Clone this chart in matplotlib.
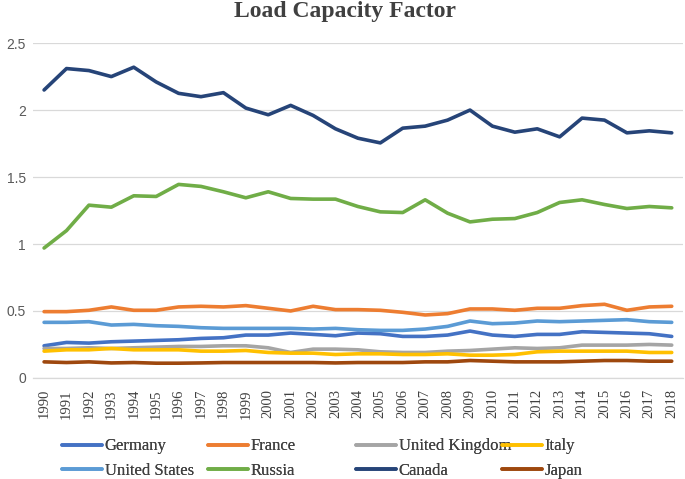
import numpy as np
import matplotlib
matplotlib.use("Agg")
import matplotlib.pyplot as plt

years = list(range(1990, 2019))

germany = [0.24, 0.265, 0.26, 0.27, 0.275, 0.28, 0.285, 0.295, 0.30, 0.32, 0.32, 0.335, 0.325, 0.315, 0.335,
           0.33, 0.31, 0.31, 0.32, 0.35, 0.32, 0.31, 0.325, 0.325, 0.345, 0.34, 0.335, 0.33, 0.31]
france = [0.495, 0.495, 0.505, 0.53, 0.505, 0.505, 0.53, 0.535, 0.53, 0.54, 0.52, 0.50, 0.535, 0.51, 0.51,
          0.505, 0.49, 0.47, 0.48, 0.515, 0.515, 0.505, 0.52, 0.52, 0.54, 0.55, 0.505, 0.53, 0.535]
uk = [0.22, 0.22, 0.225, 0.22, 0.225, 0.23, 0.235, 0.235, 0.24, 0.24, 0.225, 0.19, 0.215, 0.215, 0.21,
      0.195, 0.19, 0.19, 0.20, 0.205, 0.215, 0.225, 0.22, 0.225, 0.245, 0.245, 0.245, 0.25, 0.245]
italy = [0.20, 0.21, 0.21, 0.22, 0.21, 0.21, 0.21, 0.20, 0.20, 0.205, 0.19, 0.185, 0.185, 0.175, 0.18,
         0.18, 0.175, 0.175, 0.18, 0.17, 0.17, 0.175, 0.195, 0.20, 0.20, 0.20, 0.20, 0.19, 0.19]
usa = [0.415, 0.415, 0.42, 0.395, 0.40, 0.39, 0.385, 0.375, 0.37, 0.37, 0.37, 0.37, 0.365, 0.37, 0.36,
       0.355, 0.355, 0.365, 0.385, 0.425, 0.405, 0.41, 0.425, 0.42, 0.425, 0.43, 0.435, 0.42, 0.415]
russia = [0.97, 1.10, 1.29, 1.275, 1.36, 1.355, 1.445, 1.43, 1.39, 1.345, 1.39, 1.34, 1.335, 1.335, 1.28,
          1.24, 1.235, 1.33, 1.23, 1.165, 1.185, 1.19, 1.235, 1.31, 1.33, 1.295, 1.265, 1.28, 1.27]
canada = [2.15, 2.31, 2.295, 2.25, 2.32, 2.21, 2.125, 2.10, 2.13, 2.015, 1.965, 2.035, 1.96, 1.86, 1.79,
          1.755, 1.865, 1.88, 1.925, 2.0, 1.88, 1.835, 1.86, 1.80, 1.94, 1.925, 1.83, 1.845, 1.83]
japan = [0.12, 0.115, 0.12, 0.112, 0.115, 0.11, 0.11, 0.112, 0.115, 0.115, 0.115, 0.115, 0.115, 0.112, 0.115,
         0.115, 0.115, 0.12, 0.12, 0.13, 0.125, 0.12, 0.12, 0.12, 0.125, 0.13, 0.13, 0.125, 0.125]

series = [
    ("Germany", germany, "#4472C4"),
    ("France", france, "#ED7D31"),
    ("United Kingdom", uk, "#A5A5A5"),
    ("Italy", italy, "#FFC000"),
    ("United States", usa, "#5B9BD5"),
    ("Russia", russia, "#70AD47"),
    ("Canada", canada, "#264478"),
    ("Japan", japan, "#9E480E"),
]

serif = ["Liberation Serif", "DejaVu Serif"]

fig = plt.figure(figsize=(6.85, 4.79), dpi=100)
ax = fig.add_axes([0.048, 0.211, 0.949, 0.699])

x = np.arange(len(years))
handles = {}
for name, vals, color in series:
    (ln,) = ax.plot(x, vals, color=color, linewidth=2.6, solid_capstyle="round", label=name, zorder=3)
    handles[name] = ln

ax.set_xlim(-0.5, len(years) - 0.5)
ax.set_ylim(0, 2.5)
ax.set_yticks([0, 0.5, 1, 1.5, 2, 2.5])
ax.set_yticklabels(["0", "0.5", "1", "1.5", "2", "2.5"])
ax.grid(axis="y", color="#D9D9D9", linewidth=0.9)
ax.set_axisbelow(True)
for s in ["top", "right", "left"]:
    ax.spines[s].set_visible(False)
ax.spines["bottom"].set_color("#D9D9D9")
ax.spines["bottom"].set_linewidth(0.9)

ax.set_xticks(x)
ax.set_xticklabels([str(y) for y in years], rotation=90, fontfamily=serif, fontsize=10.5, color="#404040")
ax.tick_params(axis="x", length=0, pad=8)
ax.tick_params(axis="y", length=0, pad=5, labelsize=10, labelcolor="#595959")
for lbl in ax.get_yticklabels():
    lbl.set_fontfamily(["Liberation Sans", "DejaVu Sans"])

fig.text(0.504, 0.975, "Load Capacity Factor", ha="center", va="center",
         fontfamily=serif, fontweight="bold", fontsize=17, color="#404040")

# legend: four columns, evenly spaced like the reference
columns = [("Germany", "United States"), ("France", "Russia"),
           ("United Kingdom", "Canada"), ("Italy", "Japan")]
col_x = [62, 208, 356, 502]
for cx, names in zip(col_x, columns):
    leg = fig.legend([handles[n] for n in names], list(names),
                     loc="upper left", bbox_to_anchor=(cx / 685 - 0.012, 1 - 430 / 479),
                     frameon=False, prop={"family": serif, "size": 12},
                     handlelength=2.4, handletextpad=0.15, labelspacing=0.5,
                     borderpad=0, labelcolor="#404040")
    fig.add_artist(leg)

fig.savefig("out.png", dpi=100)
